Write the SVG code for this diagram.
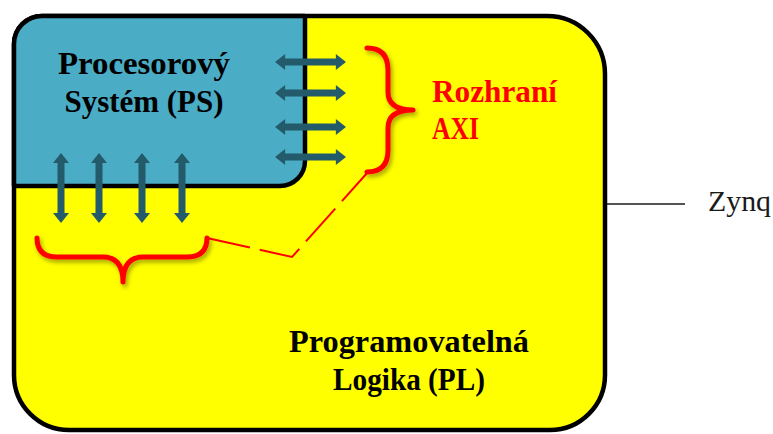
<svg xmlns="http://www.w3.org/2000/svg" xmlns:xlink="http://www.w3.org/1999/xlink" width="773" height="434" viewBox="0 0 773 434">
<style>
.lbl{font-family:"Liberation Serif","DejaVu Serif",serif;font-weight:bold;font-size:32px;fill:#000}
.red{fill:#FF0000}
.brace{fill:none;stroke:#FF0000;stroke-width:5;stroke-linecap:round;stroke-linejoin:round}
.arrow{fill:#235B6B}
.zynq{font-family:"Liberation Serif","DejaVu Serif",serif;font-size:29px;fill:#1a1a1a}
</style>
<defs>
<filter id="sh" x="-20%" y="-20%" width="140%" height="140%">
<feDropShadow dx="2" dy="3" stdDeviation="2" flood-color="#000" flood-opacity="0.35"/>
</filter>
<path id="varrow" d="M0,-35 L8,-25 L3.5,-25 L3.5,25 L8,25 L0,35 L-8,25 L-3.5,25 L-3.5,-25 L-8,-25 Z"/>
</defs>
<g id="pl">
<path d="M14,44 A28,28 0 0 1 42,16 L547,16 A58,58 0 0 1 605,74 L605,375 A55,55 0 0 1 550,430 L69,430 A55,55 0 0 1 14,375 Z" fill="#FFFF00" stroke="#000" stroke-width="4.5"/>
<text class="lbl" x="409" y="352" text-anchor="middle" textLength="240" lengthAdjust="spacingAndGlyphs">Programovatelná</text>
<text class="lbl" x="409" y="390" text-anchor="middle" textLength="152" lengthAdjust="spacingAndGlyphs">Logika (PL)</text>
</g>
<g id="ps">
<path d="M14,186 L14,44 A28,28 0 0 1 42,16 L305,16 L305,161 A25,25 0 0 1 280,186 Z" fill="#4BACC6"/>
<path d="M305,16 L305,161 A25,25 0 0 1 280,186 L14,186" fill="none" stroke="#000" stroke-width="4.5"/>
<path d="M14,186 L14,44 A28,28 0 0 1 42,16 L305,16" fill="none" stroke="#000" stroke-width="4.5"/>
<text class="lbl" x="144" y="74" text-anchor="middle" textLength="172" lengthAdjust="spacingAndGlyphs">Procesorový</text>
<text class="lbl" x="144" y="112" text-anchor="middle" textLength="159" lengthAdjust="spacingAndGlyphs">Systém (PS)</text>
</g>
<g id="connectors">
<g class="arrow">
<use xlink:href="#varrow" transform="translate(61,188)"/>
<use xlink:href="#varrow" transform="translate(99,188)"/>
<use xlink:href="#varrow" transform="translate(142,188)"/>
<use xlink:href="#varrow" transform="translate(182,188)"/>
<use xlink:href="#varrow" transform="translate(310.5,62) rotate(90) scale(1,1.014)"/>
<use xlink:href="#varrow" transform="translate(310.5,93) rotate(90) scale(1,1.014)"/>
<use xlink:href="#varrow" transform="translate(310.5,127) rotate(90) scale(1,1.014)"/>
<use xlink:href="#varrow" transform="translate(310.5,157) rotate(90) scale(1,1.014)"/>
</g>
<path d="M207,238 L292,257 L368,172" fill="none" stroke="#FF0000" stroke-width="2" stroke-dasharray="44 10"/>
<line x1="607" y1="204" x2="685" y2="204" stroke="#1a1a1a" stroke-width="1.5"/>
</g>
<g id="axi-brace">
<path class="brace" filter="url(#sh)" d="M367,48 Q388,48 388,70 L388,92 Q388,110 413,110 Q388,110 388,128 L388,150 Q388,172 367,172"/>
</g>
<g id="bottom-brace">
<path class="brace" filter="url(#sh)" d="M37,238 Q37,257 57,257 L103,257 Q123,257 123,282 Q123,257 143,257 L187,257 Q207,257 207,238"/>
</g>
<g id="axi-label">
<text class="lbl red" x="432" y="102" textLength="125" lengthAdjust="spacingAndGlyphs">Rozhraní</text>
<text class="lbl red" x="432" y="139" textLength="47" lengthAdjust="spacingAndGlyphs">AXI</text>
</g>
<g id="zynq">
<text class="zynq" x="708" y="211" textLength="63" lengthAdjust="spacingAndGlyphs">Zynq</text>
</g>
</svg>
